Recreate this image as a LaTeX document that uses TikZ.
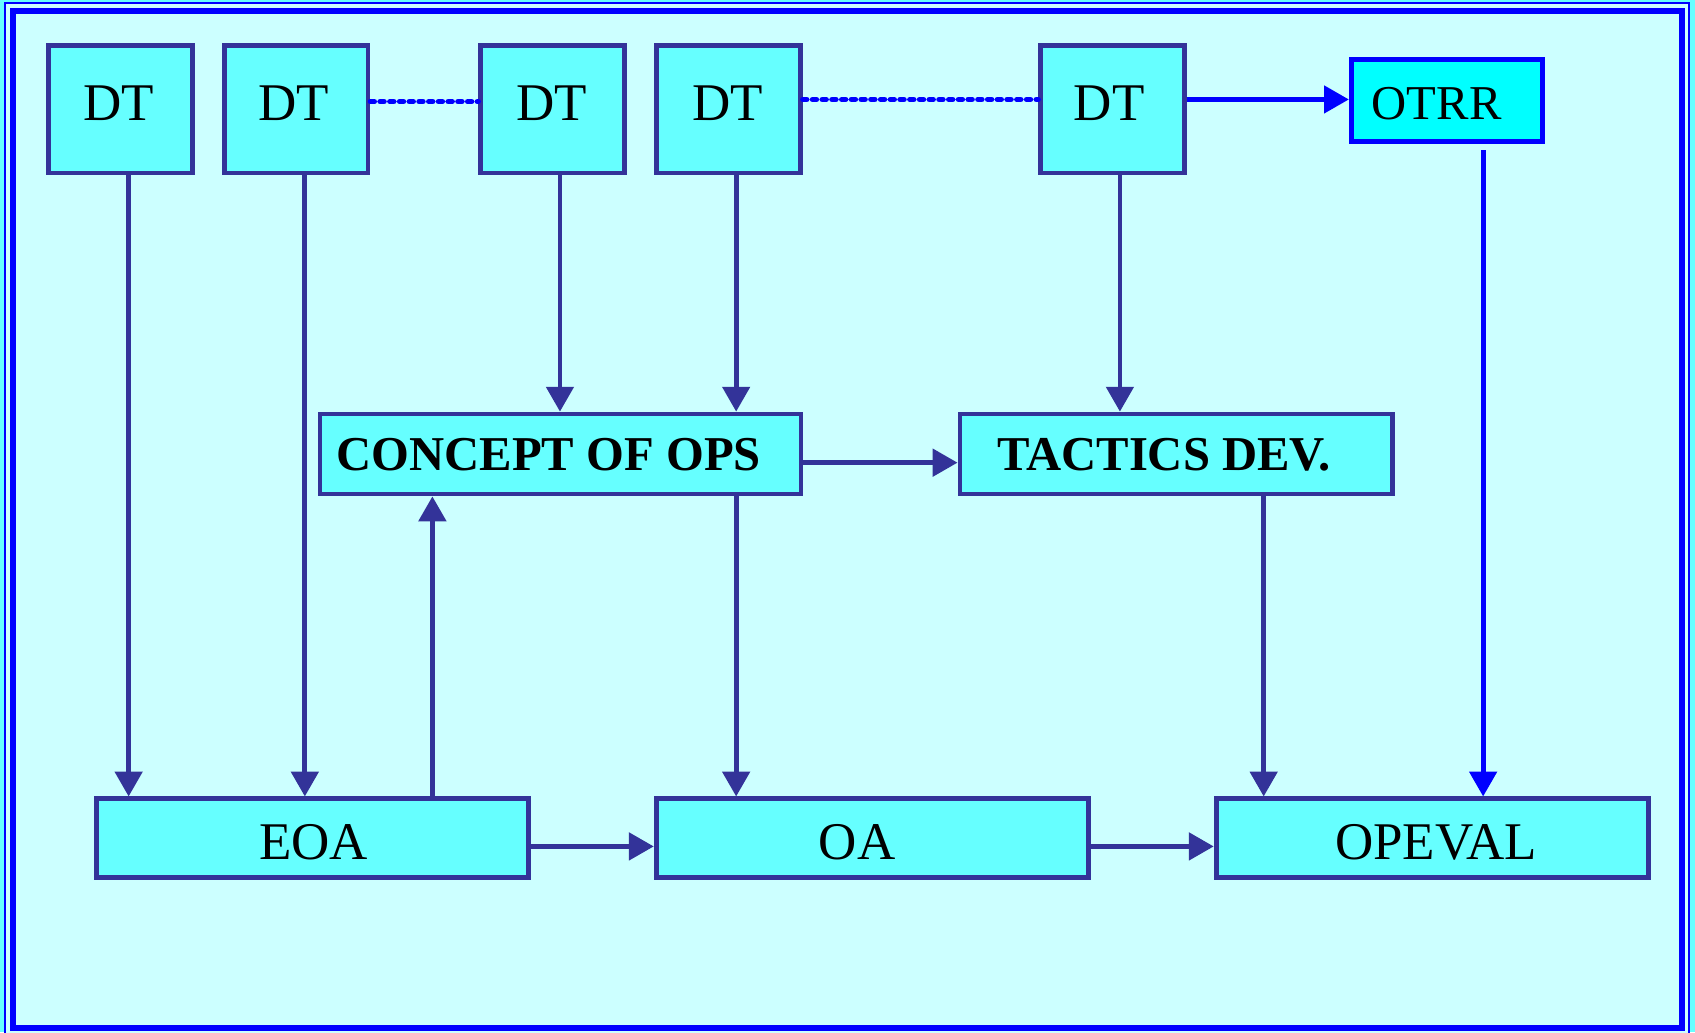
\documentclass[tikz,border=0pt]{standalone}
\usepackage{fontspec}
\setmainfont{Liberation Serif}
\usetikzlibrary{arrows.meta}
\definecolor{boxline}{HTML}{333399}
\definecolor{boxfill}{HTML}{66FFFF}
\definecolor{bgfill}{HTML}{CCFFFF}
\definecolor{pureblue}{HTML}{0000FF}
\definecolor{otrrfill}{HTML}{00FFFF}
\begin{document}
\begin{tikzpicture}[x=1pt,y=-1pt,
 box/.style={draw=boxline, fill=boxfill, line width=4.4pt, inner sep=0pt},
 dtbox/.style={box, minimum width=133pt, minimum height=118pt},
 widebox/.style={box, minimum width=400pt, minimum height=73pt},
 reg/.style={font=\fontsize{49}{58}\selectfont, inner sep=0pt},
 bld/.style={font=\fontsize{45}{54}\selectfont\bfseries, inner sep=0pt},
 conn/.style={draw=boxline, line width=4.4pt, -{Triangle[length=23pt,width=25pt]}},
 bconn/.style={draw=pureblue, line width=4.4pt, -{Triangle[length=23pt,width=25pt]}},
 dotline/.style={draw=pureblue, line width=5.2pt, line cap=round, dash pattern=on 3.5pt off 5.5pt},
]
% background and frame
\clip (0,0) rectangle (1568,955);
\fill[boxfill] (0,0) rectangle (1568,955);
\draw[pureblue, line width=1.8pt, fill=bgfill] (5,3) rectangle (1562,975);
\draw[pureblue, line width=6pt, fill=bgfill] (12,10) rectangle (1556,951);

% boxes
\node[dtbox] (dt1) at (111.5,101) {};
\node[dtbox] (dt2) at (274,101) {};
\node[dtbox] (dt3) at (511,101) {};
\node[dtbox] (dt4) at (674,101) {};
\node[dtbox] (dt5) at (1029,101) {};
\node[box, draw=pureblue, fill=otrrfill, minimum width=177pt, minimum height=76pt] (otrr) at (1338.5,93) {};
\node[box, minimum width=445pt, minimum height=74pt] (cop) at (518.5,420) {};
\node[box, minimum width=400pt, minimum height=74pt] (tac) at (1088,420) {};
\node[widebox] (eoa) at (289,775.5) {};
\node[widebox] (oa) at (807,775.5) {};
\node[widebox] (opeval) at (1325,775.5) {};

% texts
\node[reg] (t1) at ([xshift=-1.5pt,yshift=5.5pt]dt1.center) {DT};
\node[reg] (t2) at ([xshift=-2pt,yshift=5.5pt]dt2.center) {DT};
\node[reg] (t3) at ([xshift=-1pt,yshift=5.5pt]dt3.center) {DT};
\node[reg] (t4) at ([xshift=-1pt,yshift=5.5pt]dt4.center) {DT};
\node[reg] (t5) at ([xshift=-3pt,yshift=5.5pt]dt5.center) {DT};
\node[reg, font=\fontsize{45}{54}\selectfont] (t6) at ([xshift=-9.5pt,yshift=-2.5pt]otrr.center) {OTRR};
\node[bld] (t7) at ([xshift=-11pt,yshift=-0.5pt]cop.center) {CONCEPT OF OPS};
\node[bld] (t8) at ([xshift=-11pt,yshift=-1pt]tac.center) {TACTICS DEV.};
\node[reg] (t9) at ([xshift=1pt,yshift=-4pt]eoa.center) {EOA};
\node[reg] (t10) at ([xshift=-14pt,yshift=-4pt]oa.center) {OA};
\node[reg] (t11) at ([xshift=3.5pt,yshift=-4pt]opeval.center) {OPEVAL};

% guide coordinates
\coordinate (x119) at (119,0);
\coordinate (x282) at (282,0);
\coordinate (x400) at (400,0);
\coordinate (x518) at (518,0);
\coordinate (x681) at (681,0);
\coordinate (x1036) at (1036,0);
\coordinate (x1169) at (1169,0);
\coordinate (x1372) at (1372,0);
\coordinate (y94) at (0,94);
\coordinate (y92) at (0,92);
\coordinate (y428) at (0,428);
\coordinate (y783) at (0,783);

% connectors
\draw[conn] (dt1.south -| x119) -- (eoa.north -| x119);
\draw[conn] (dt2.south -| x282) -- (eoa.north -| x282);
\draw[conn] (eoa.north -| x400) -- (cop.south -| x400);
\draw[conn] (dt3.south -| x518) -- (cop.north -| x518);
\draw[conn] (dt4.south -| x681) -- (cop.north -| x681);
\draw[conn] (cop.south -| x681) -- (oa.north -| x681);
\draw[conn] (dt5.south -| x1036) -- (tac.north -| x1036);
\draw[conn] (tac.south -| x1169) -- (opeval.north -| x1169);
\draw[bconn, shorten <=6pt] (otrr.south -| x1372) -- (opeval.north -| x1372);
\draw[conn] (cop.east |- y428) -- (tac.west |- y428);
\draw[bconn] (dt5.east |- y92) -- (otrr.west |- y92);
\draw[conn] (eoa.east |- y783) -- (oa.west |- y783);
\draw[conn] (oa.east |- y783) -- (opeval.west |- y783);
\draw[dotline] (dt2.east |- y94) -- (dt3.west |- y94);
\draw[dotline] (dt4.east |- y92) -- (dt5.west |- y92);
\end{tikzpicture}
\end{document}
